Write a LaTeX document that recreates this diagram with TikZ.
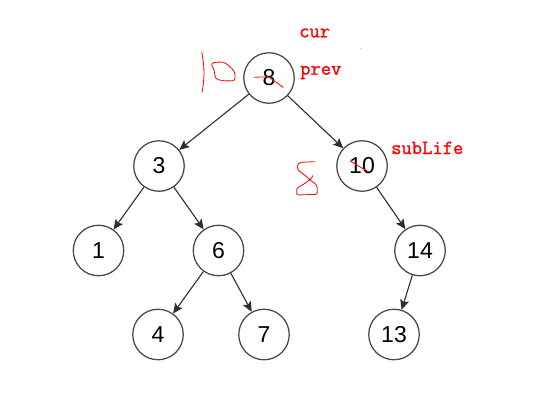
\documentclass[tikz,border=0pt]{standalone}
\usepackage{fontspec}
\setmainfont{Liberation Sans}
\newfontfamily\redmono[FakeBold=1.2]{Latin Modern Mono}
\usetikzlibrary{arrows.meta}
\begin{document}
\begin{tikzpicture}[x=1pt,y=-1pt,
  tnode/.style={circle,draw=black!72,line width=1.25pt,minimum size=50.5pt,inner sep=0pt,
    font=\fontsize{23}{23}\selectfont},
  edge/.style={draw=black!82,line width=1.1pt,-{Stealth[length=10pt,width=9pt,inset=2pt]}},
  redlbl/.style={text=red,font=\redmono\fontsize{20}{20}\selectfont,inner sep=0pt,anchor=base west},
  ink/.style={draw=red,line width=0.8pt,line join=round,line cap=round}]
\useasboundingbox (0,0) rectangle (545,402);
\fill[white] (0,0) rectangle (545,402);

\node[tnode] (n8)  at (269,78)  {8};
\node[tnode] (n3)  at (159,166) {3};
\node[tnode] (n10) at (362,166) {10};
\node[tnode] (n1)  at (98.5,250.5) {1};
\node[tnode] (n6)  at (218.5,250.5) {6};
\node[tnode] (n14) at (420,250.5) {14};
\node[tnode] (n4)  at (158,334.5) {4};
\node[tnode] (n7)  at (264,334.5) {7};
\node[tnode] (n13) at (394,334.5) {13};

\draw[edge] (n8) -- (n3);
\draw[edge] (n8) -- (n10);
\draw[edge] (n3) -- (n1);
\draw[edge] (n3) -- (n6);
\draw[edge] (n6) -- (n4);
\draw[edge] (n6) -- (n7);
\draw[edge] (n10) -- (n14);
\draw[edge] (n14) -- (n13);

\node[redlbl] (cur) at (299,37.3) {cur};
\node[redlbl] (prev) at (300,74.7) {prev};
\node[redlbl] (sub) at (391,154) {subLife};

% handwritten marks
\draw[ink] plot[smooth] coordinates {(201.8,52) (203.5,64) (204,74) (203.3,84) (202,92.5)};
\draw[ink] plot[smooth] coordinates {(211.7,65) (213.3,62.7) (223.3,62.3) (230,66.7) (234.3,72) (234.3,80) (223.3,80.7) (216,78.3) (214,70) (211.7,65)};
\draw[ink] (254.3,77.3) -- (268.3,76.7) -- (283.3,87.3);
\draw[ink,rounded corners=1.5pt] (315,161.7) -- (300,162.3) -- (297.3,165) -- (297.3,169) -- (300,171.7)
  -- (306.7,176.7) -- (310,180) -- (315,183.3) -- (317.3,186.7) -- (317.3,194.3)
  -- (296.7,195) -- (296.7,188.3) -- (305,183.3) -- (311.7,178.3) -- (312.7,175.7);
\draw[ink] (350,161) -- (368.3,171.7);
\fill[red!40] (360.7,48.3) circle (0.6pt);
\end{tikzpicture}
\end{document}
